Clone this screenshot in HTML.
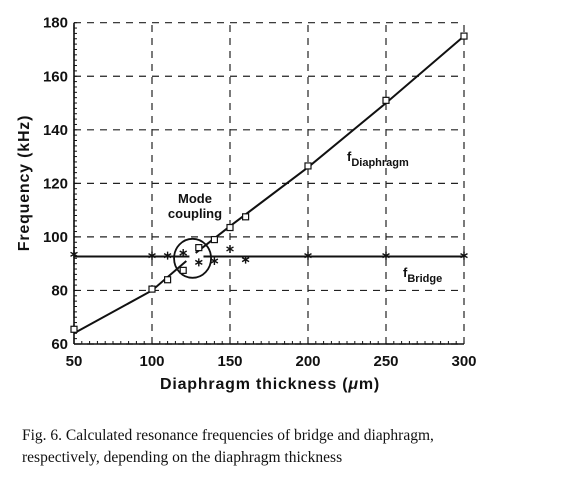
<!DOCTYPE html>
<html><head><meta charset="utf-8"><style>
body{margin:0;background:#fff;width:584px;height:484px;overflow:hidden}
svg text{font-family:"Liberation Sans",sans-serif;font-weight:bold;fill:#111}
</style></head><body>
<svg width="584" height="484">
<g id="grid"></g>
<g id="axes"></g>
<g id="marks"></g>
<text x="270" y="389" font-size="16" letter-spacing="0.8" text-anchor="middle">Diaphragm  thickness  (<tspan font-style="italic">μ</tspan>m)</text>
<text transform="translate(29,183) rotate(-90)" font-size="16" letter-spacing="0.8" text-anchor="middle">Frequency  (kHz)</text>
<text x="195" y="203" font-size="13" text-anchor="middle">Mode</text>
<text x="195" y="218" font-size="13" text-anchor="middle">coupling</text>
<text x="347" y="161" font-size="13">f<tspan font-size="11" dy="5">Diaphragm</tspan></text>
<text x="403" y="277" font-size="13">f<tspan font-size="11" dy="5">Bridge</tspan></text>
<text x="22" y="440" font-size="15.5" style="font-family:'Liberation Serif',serif;font-weight:normal">Fig. 6.  Calculated resonance frequencies of bridge and diaphragm,</text>
<text x="22" y="462" font-size="15.5" style="font-family:'Liberation Serif',serif;font-weight:normal">respectively, depending on the diaphragm thickness</text>
</svg>
<script>
const xTicks=[50,100,150,200,250,300];
const yTicks=[60,80,100,120,140,160,180];
const diaX=[50,100,110,120,130,140,150,160,200,250,300];
const diaY=[65.5,80.5,84,87.5,96,99,103.5,107.5,126.5,151,175];
const briX=[50,100,110,120,130,140,150,160,200,250,300];
const briY=[93.5,93,93,94,90.5,91,95.5,91.5,93,93,93];
const fitLoX=[50,100,122];
const fitLoY=[64,80,91];
const fitHiX=[128,150,200,250,300];
const fitHiY=[94,104,126,150,175];
const bridgeLevel=92.7;
const X=v=>74+(v-50)*(464-74)/250;
const Y=v=>344-(v-60)*(344-22.7)/120;
const NS='http://www.w3.org/2000/svg';
function mk(p,t,a){const e=document.createElementNS(NS,t);for(const k in a)e.setAttribute(k,a[k]);p.appendChild(e);return e;}
const grid=document.getElementById('grid'),axes=document.getElementById('axes'),marks=document.getElementById('marks');
xTicks.forEach(t=>{const l=mk(grid,'line',{x1:X(t),x2:X(t),y1:Y(60),y2:Y(180),stroke:'#222','stroke-width':1.2,'stroke-dasharray':'7,6'});


const tx=mk(axes,'text',{x:X(t),y:366,'font-size':15,'text-anchor':'middle'});tx.textContent=t;

});
yTicks.forEach(t=>{const l=mk(grid,'line',{x1:X(50),x2:X(300),y1:Y(t),y2:Y(t),stroke:'#222','stroke-width':1.2,'stroke-dasharray':'7,6'});


const tx=mk(axes,'text',{x:68,y:Y(t)+5,'font-size':15,'text-anchor':'end'});tx.textContent=t;

});
mk(axes,'line',{x1:X(50),x2:X(300),y1:Y(60),y2:Y(60),stroke:'#111','stroke-width':1.6});
mk(axes,'line',{x1:X(50),x2:X(50),y1:Y(60),y2:Y(180),stroke:'#111','stroke-width':1.6});
for(let v=50;v<=300;v+=5)mk(axes,'line',{x1:X(v),x2:X(v),y1:Y(60),y2:Y(60)-3,stroke:'#111'});
for(let v=60;v<=180;v+=2)mk(axes,'line',{x1:X(50),x2:X(50)+3,y1:Y(v),y2:Y(v),stroke:'#111'});
function poly(xs,ys,name){const p=mk(marks,'polyline',{points:xs.map((x,i)=>X(x)+','+Y(ys[i])).join(' '),fill:'none',stroke:'#111','stroke-width':2});

}
poly(fitLoX,fitLoY,'diaphragm-fit-lower');
poly(fitHiX,fitHiY,'diaphragm-fit-upper');
poly([50,124],[bridgeLevel,bridgeLevel],'bridge-line-left');
poly([133,300],[bridgeLevel,bridgeLevel],'bridge-line-right');
const c=mk(marks,'ellipse',{cx:X(126),cy:Y(92),rx:18.5,ry:19.5,fill:'none',stroke:'#111','stroke-width':1.8});


diaX.forEach((x,i)=>{const r=mk(marks,'rect',{x:X(x)-3,y:Y(diaY[i])-3,width:6,height:6,fill:'#fff',stroke:'#111','stroke-width':1.2});

});
briX.forEach((x,i)=>{const cx=X(x),cy=Y(briY[i]);
const g=mk(marks,'path',{d:`M${cx},${cy-4}V${cy+4}M${cx-3.5},${cy-2}L${cx+3.5},${cy+2}M${cx-3.5},${cy+2}L${cx+3.5},${cy-2}`,stroke:'#111','stroke-width':1.4,fill:'none'});

});
</script>
</body></html>
